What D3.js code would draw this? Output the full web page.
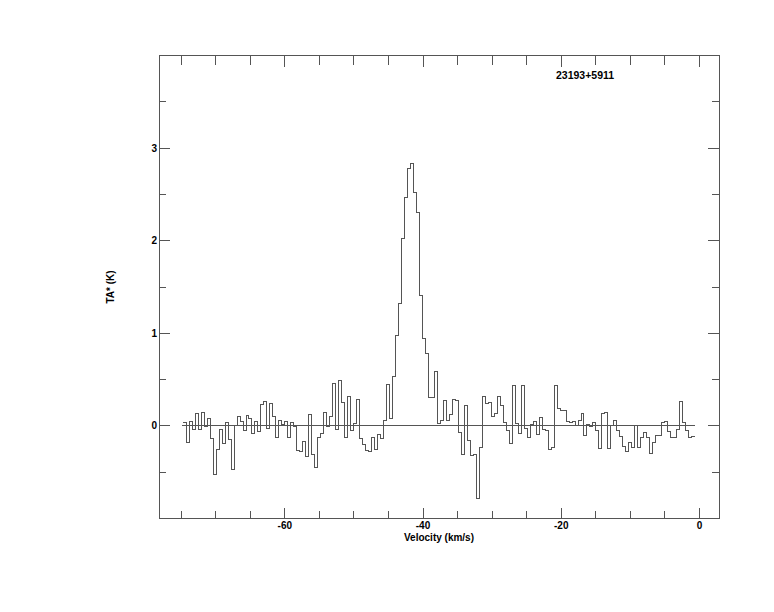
<!DOCTYPE html>
<html>
<head>
<meta charset="utf-8">
<script src="https://cdn.jsdelivr.net/npm/d3@7"></script>
<style>
  html, body { margin: 0; padding: 0; background: #fff; }
  svg { display: block; }
  text { font-family: "Liberation Sans", Arial, Helvetica, sans-serif; font-weight: bold; fill: #000; }
</style>
</head>
<body>
<svg id="chart" width="774" height="612"></svg>
<script>
// ---- data ----
const sourceName = "23193+5911";
const xLabel = "Velocity (km/s)";
const yLabel = "TA* (K)";
const channelStart = -74.70;   // left edge of first channel (km/s)
const channelWidth = 0.4328;   // km/s
const intensity = [
  0.04,-0.18,0.05,-0.04,0.13,-0.04,0.14,-0.01,0.08,-0.14,
  -0.53,-0.25,-0.04,-0.19,0.04,-0.15,-0.47,0.00,0.10,0.05,
  -0.05,0.11,0.08,-0.08,0.05,-0.06,0.23,0.26,-0.03,0.24,
  0.10,-0.12,0.06,0.02,0.05,-0.13,0.04,-0.01,-0.27,-0.28,
  -0.17,-0.33,0.12,-0.31,-0.45,-0.12,-0.08,0.15,-0.01,0.10,
  0.46,-0.04,0.49,0.25,-0.12,
  0.32,-0.05,0.03,0.29,-0.14,-0.20,-0.27,-0.28,-0.12,-0.25,
  -0.09,-0.14,0.06,0.45,0.08,0.53,0.98,1.32,2.02,2.47,
  2.78,2.83,2.52,2.30,1.41,0.94,0.78,0.31,0.31,0.59,
  0.03,0.06,0.27,0.06,0.12,0.28,0.27,-0.07,-0.31,0.22,
  -0.16,-0.32,-0.31,-0.78,-0.23,0.32,0.24,0.25,0.10,0.13,
  0.32,0.22,0.04,-0.05,-0.19,0.44,0.03,
  -0.08,0.44,-0.03,-0.12,0.02,0.05,-0.09,0.09,-0.04,-0.05,
  -0.25,-0.23,0.44,0.19,0.17,0.17,0.05,0.04,0.05,0.00,
  0.06,0.13,-0.10,0.02,-0.01,0.04,-0.05,-0.24,0.13,0.15,
  -0.24,0.00,0.06,-0.05,-0.11,-0.22,-0.28,-0.18,-0.23,0.00,
  -0.23,-0.13,-0.07,-0.12,-0.30,-0.18,-0.10,-0.10,0.04,0.05,
  -0.06,-0.12,-0.13,-0.04,0.26,0.04,-0.05,-0.12,-0.11
];
const xMajorTicks = [-60, -40, -20, 0];
const xMinorTicks = [-75,-70,-65,-55,-50,-45,-35,-30,-25,-15,-10,-5];
const yMajorTicks = [0, 1, 2, 3];
const yMinorTicks = [-0.5, 0.5, 1.5, 2.5, 3.5];
const xDomain = [-78.2, 2.83];
const yDomain = [-1, 4];

// ---- layout ----
const L = 159, R = 719, T = 55.5, B = 518.5;
const stroke = "#555";
const svg = d3.select("#chart");
const x = d3.scaleLinear().domain(xDomain).range([L, R]);
const y = d3.scaleLinear().domain(yDomain).range([B, T]);

const g = svg.append("g").attr("shape-rendering", "crispEdges");

// frame
g.append("rect").attr("x", L).attr("y", T).attr("width", R - L).attr("height", B - T)
  .attr("fill", "none").attr("stroke", stroke).attr("stroke-width", 1);

const allX = xMajorTicks.map(v => ({v, major: true})).concat(xMinorTicks.map(v => ({v, major: false})));
const allY = yMajorTicks.map(v => ({v, major: true})).concat(yMinorTicks.map(v => ({v, major: false})));

// bottom ticks
g.selectAll(".xb").data(allX).join("line")
  .attr("x1", d => x(d.v)).attr("x2", d => x(d.v))
  .attr("y1", B).attr("y2", d => B - (d.major ? 11 : 8))
  .attr("stroke", stroke);
// top ticks
g.selectAll(".xt").data(allX).join("line")
  .attr("x1", d => x(d.v)).attr("x2", d => x(d.v))
  .attr("y1", T).attr("y2", d => T + (d.major ? 11 : 9))
  .attr("stroke", stroke);
// left ticks
g.selectAll(".yl").data(allY).join("line")
  .attr("x1", L).attr("x2", d => L + (d.major ? 11 : 7))
  .attr("y1", d => y(d.v)).attr("y2", d => y(d.v))
  .attr("stroke", stroke);
// right ticks
g.selectAll(".yr").data(allY).join("line")
  .attr("x1", R).attr("x2", d => R - (d.major ? 11 : 7))
  .attr("y1", d => y(d.v)).attr("y2", d => y(d.v))
  .attr("stroke", stroke);

// tick labels
svg.selectAll(".xlab").data(xMajorTicks).join("text")
  .attr("x", d => x(d)).attr("y", 529)
  .attr("text-anchor", "middle").attr("font-size", 10)
  .text(d => d);
svg.selectAll(".ylab").data(yMajorTicks).join("text")
  .attr("x", 157).attr("y", d => y(d)).attr("dy", "0.35em")
  .attr("text-anchor", "end").attr("font-size", 10)
  .text(d => d);

// axis titles
svg.append("text").attr("x", (L + R) / 2).attr("y", 541)
  .attr("text-anchor", "middle").attr("font-size", 10).text(xLabel);
svg.append("text")
  .attr("transform", `translate(114,${(T + B) / 2}) rotate(-90)`)
  .attr("text-anchor", "middle").attr("font-size", 10).text(yLabel);

// source name
svg.append("text").attr("x", 556).attr("y", 79).attr("font-size", 10.5).text(sourceName);

// spectrum (step histogram)
const pts = intensity.map((v, i) => [channelStart + i * channelWidth, v]);
pts.push([channelStart + intensity.length * channelWidth, intensity[intensity.length - 1]]);
const line = d3.line().x(d => x(d[0])).y(d => y(d[1])).curve(d3.curveStepAfter);

// baseline
g.append("line")
  .attr("x1", x(channelStart - 0.2)).attr("x2", x(channelStart + intensity.length * channelWidth))
  .attr("y1", y(0)).attr("y2", y(0)).attr("stroke", stroke);

g.append("path").datum(pts).attr("d", line)
  .attr("fill", "none").attr("stroke", stroke).attr("stroke-width", 1);
</script>
</body>
</html>
